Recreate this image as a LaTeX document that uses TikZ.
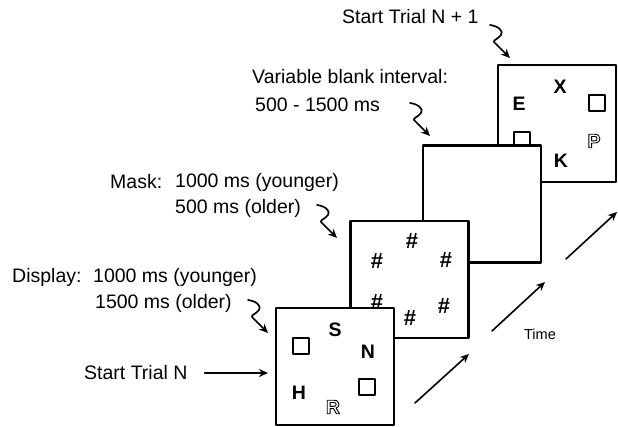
\documentclass[tikz,border=0pt]{standalone}
\usepackage{fontspec}
\setmainfont{Liberation Sans}
\usetikzlibrary{arrows.meta,calc}

% hollow letter: stroke only
\newcommand{\hollow}[1]{\special{pdf:literal direct 1 Tr 0.9 w}#1\special{pdf:literal direct 0 Tr}}
\tikzset{
  frame/.style={draw, line width=2.3pt, fill=white, minimum width=118pt, minimum height=117pt, inner sep=0pt},
  lab/.style={font=\fontsize{19.5}{22}\selectfont, inner sep=0pt, anchor=west},
  sym/.style={font=\fontsize{19.5}{22}\selectfont\bfseries, inner sep=0pt},
  hash/.style={font=\fontsize{22}{24}\selectfont\bfseries, inner sep=0pt},
  sq/.style={draw, line width=2.2pt, minimum size=15.5pt, inner sep=0pt},
  squig/.style={line width=1.7pt, -{Stealth[length=9pt,width=8pt]}},
  timearrow/.style={line width=1.6pt, -{Stealth[length=9pt,width=8pt]}},
}

\begin{document}
\begin{tikzpicture}[x=1pt, y=-1pt, line cap=round, line join=round]
    \useasboundingbox (0,0) rectangle (618,427);
    % labels
    \node[lab] (trialnext) at (342,17) {Start Trial N + 1};
    \node[lab] (blank) at (252,77) {Variable blank interval:};
    \node[lab] (blankms) at (255,105) {500 - 1500 ms};
    \node[lab] (mask) at (110,182) {Mask:};
    \node[lab] (maskyoung) at (175,182) {1000 ms (younger)};
    \node[lab] (maskold) at (175,208) {500 ms (older)};
    \node[lab] (disp) at (12,277) {Display:};
    \node[lab] (dispyoung) at (93,277) {1000 ms (younger)};
    \node[lab] (dispold) at (95,303) {1500 ms (older)};
    \node[lab] (trial) at (84,373) {Start Trial N};
    \node[font=\fontsize{14.5}{16}\selectfont, inner sep=0pt] (time) at (540,334) {Time};

    % trial N+1
    \node[frame] (b4) at (557,123.5) {};
    \foreach \x/\y/\txt in {560/87/X, 519/104/E, 561/161/K}
        \node[sym] (b4-\txt) at (\x,\y) {\txt};
    \node[sq] (b4-sqa) at (597,103) {};
    \node[sq] (b4-sqb) at (522,140) {};
    \node[sym] (b4-P) at (594,141) {\hollow{P}};

    % blank interval
    \node[frame] (b3) at (482,204) {};

    % mask
    \node[frame] (b2) at (409.5,279.5) {};
    \foreach \x/\y [count=\i] in {412/241, 377/261, 446/260, 377/302, 444/306, 410/318}
        \node[hash] (b2-h\i) at (\x,\y) {\#};

    % display
    \node[frame] (b1) at (335,366.5) {};
    \foreach \x/\y/\txt in {335/330/S, 368/352/N, 299/393/H}
        \node[sym] (b1-\txt) at (\x,\y) {\txt};
    \node[sq] (b1-sqa) at (301,346) {};
    \node[sq] (b1-sqb) at (367,387) {};
    \node[sym] (b1-R) at (333,407) {\hollow{R}};

    % squiggly pointers
    \coordinate (s1) at (248,300);
    \coordinate (s2) at (317,205);
    \coordinate (s3) at (410,103);
    \coordinate (s4) at (490,25);
    \foreach \n in {1,...,4}
        \draw[squig] (s\n) .. controls ($(s\n)+(8,1)$) and ($(s\n)+(14,6)$) .. ($(s\n)+(11,10)$)
            .. controls ($(s\n)+(8,14)$) and ($(s\n)+(3,15)$) .. ($(s\n)+(4,17)$) -- ($(s\n)+(20,33)$);

    \coordinate (trialtip) at (268,373);
    \draw[timearrow] ([xshift=17pt]trial.east) -- (trialtip);

    % time arrows
    \coordinate (ta1) at (415,403);
    \coordinate (tb1) at (469,354);
    \coordinate (ta2) at (492,331);
    \coordinate (tb2) at (545,282);
    \coordinate (ta3) at (566,259);
    \coordinate (tb3) at (617,212);
    \foreach \n in {1,2,3}
        \draw[timearrow] (ta\n) -- (tb\n);
\end{tikzpicture}
\end{document}
